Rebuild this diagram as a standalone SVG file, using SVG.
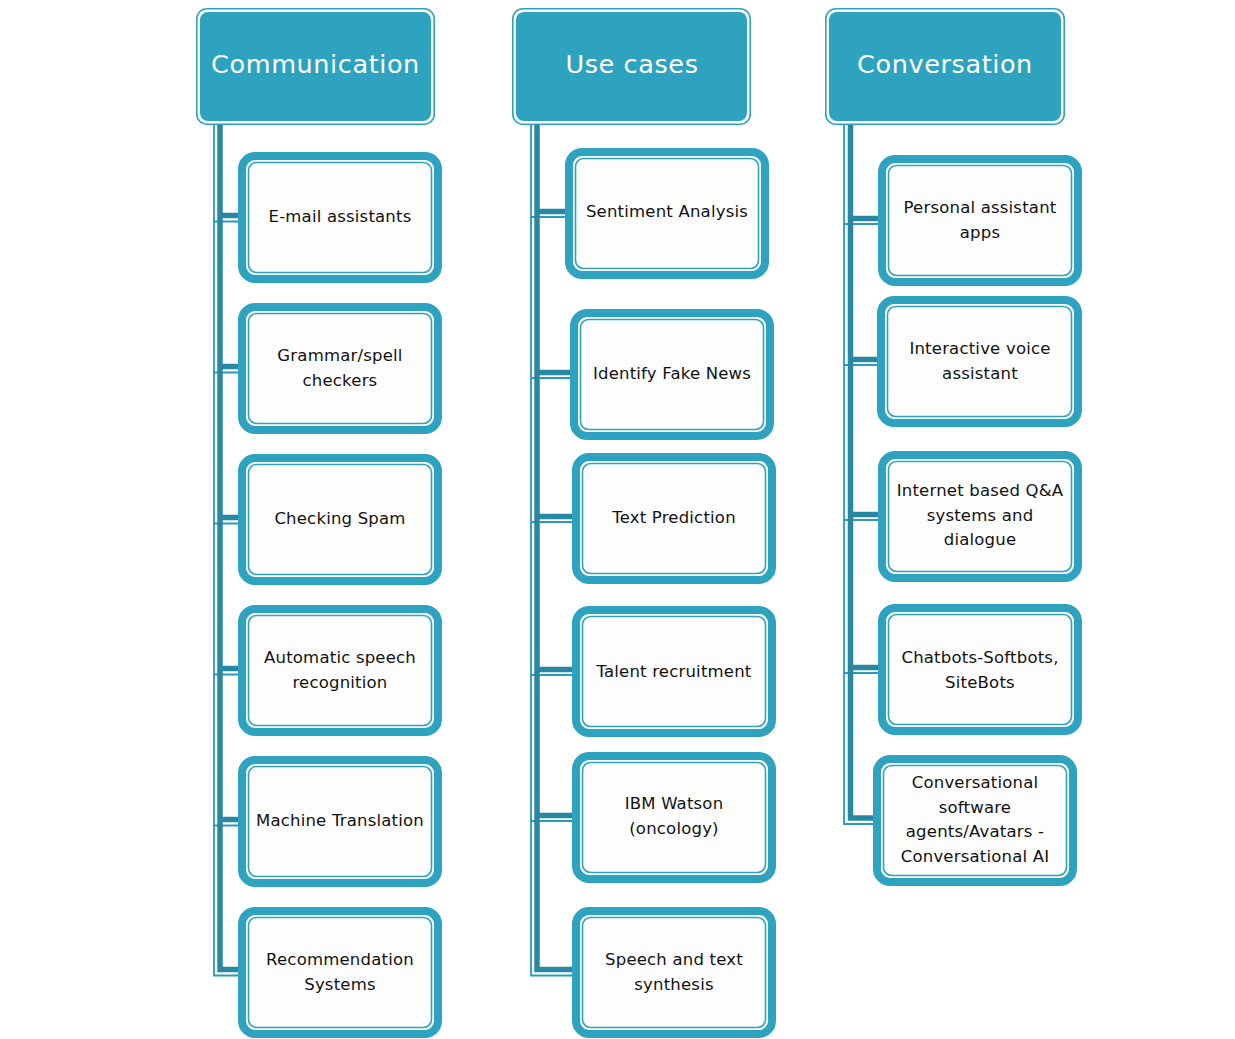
<svg xmlns="http://www.w3.org/2000/svg" width="1235" height="1039" viewBox="0 0 1235 1039">
<style>
.hd-out{fill:#ffffff;stroke:#2DA3C0;stroke-width:1.6}
.hd-in{fill:#2DA3C0}
.hd-t{font-family:"DejaVu Sans",sans-serif;font-size:25.5px;fill:#ffffff;text-anchor:middle;letter-spacing:0.6px}
.bx-out{fill:#ffffff;stroke:#2DA3C0;stroke-width:8}
.bx-in{fill:#fdfdfd;stroke:#2DA3C0;stroke-width:1.6}
.bx-t{font-family:"DejaVu Sans",sans-serif;font-size:16.5px;fill:#111111;text-anchor:middle;letter-spacing:0.2px}
.thin{fill:none;stroke:#2A9AB6;stroke-width:1.8}
.thick{fill:none;stroke:#2888A2;stroke-width:5.5}
</style>
<rect width="1235" height="1039" fill="#ffffff"/>
<g id="connectors">
  <path class="thin" d="M214,125 V975.5 H238 M214,221.5 H238 M214,372.5 H238 M214,523.5 H238 M214,674.5 H238 M214,825.5 H238"/>
  <path class="thick" d="M220,125 V969.5 H238 M220,215.5 H238 M220,366.5 H238 M220,517.5 H238 M220,668.5 H238 M220,819.5 H238"/>
  <path class="thin" d="M531,125 V975.5 H572 M531,217 H565 M531,378 H570 M531,522 H572 M531,675 H572 M531,821 H572"/>
  <path class="thick" d="M537,125 V969.5 H572 M537,211.5 H565 M537,372.5 H570 M537,516.5 H572 M537,669.5 H572 M537,815.5 H572"/>
  <path class="thin" d="M844,125 V824 H873 M844,224 H878 M844,365 H877 M844,520 H878 M844,673 H878"/>
  <path class="thick" d="M850.5,125 V818 H873 M850.5,218.5 H878 M850.5,359.5 H877 M850.5,514.5 H878 M850.5,667.5 H878"/>
</g>
<g id="h-communication">
  <rect class="hd-out" x="196.8" y="8.8" width="237.4" height="115.4" rx="10"/>
  <rect class="hd-in" x="200" y="12" width="231" height="109" rx="8"/>
  <text class="hd-t" x="315.5" y="73">Communication</text>
</g>
<g id="h-usecases">
  <rect class="hd-out" x="512.8" y="8.8" width="237.4" height="115.4" rx="10"/>
  <rect class="hd-in" x="516" y="12" width="231" height="109" rx="8"/>
  <text class="hd-t" x="632" y="73">Use cases</text>
</g>
<g id="h-conversation">
  <rect class="hd-out" x="825.8" y="8.8" width="238.4" height="115.4" rx="10"/>
  <rect class="hd-in" x="829" y="12" width="232" height="109" rx="8"/>
  <text class="hd-t" x="945" y="73">Conversation</text>
</g>
<g id="n-email">
  <rect class="bx-out" x="242" y="156" width="196" height="123" rx="13"/>
  <rect class="bx-in" x="248.5" y="162.5" width="183" height="110" rx="8"/>
  <text class="bx-t" x="340" y="222">E-mail assistants</text>
</g>
<g id="n-grammar">
  <rect class="bx-out" x="242" y="307" width="196" height="123" rx="13"/>
  <rect class="bx-in" x="248.5" y="313.5" width="183" height="110" rx="8"/>
  <text class="bx-t" x="340" y="361">Grammar/spell</text>
  <text class="bx-t" x="340" y="385.5">checkers</text>
</g>
<g id="n-spam">
  <rect class="bx-out" x="242" y="458" width="196" height="123" rx="13"/>
  <rect class="bx-in" x="248.5" y="464.5" width="183" height="110" rx="8"/>
  <text class="bx-t" x="340" y="524">Checking Spam</text>
</g>
<g id="n-asr">
  <rect class="bx-out" x="242" y="609" width="196" height="123" rx="13"/>
  <rect class="bx-in" x="248.5" y="615.5" width="183" height="110" rx="8"/>
  <text class="bx-t" x="340" y="663">Automatic speech</text>
  <text class="bx-t" x="340" y="687.5">recognition</text>
</g>
<g id="n-mt">
  <rect class="bx-out" x="242" y="760" width="196" height="123" rx="13"/>
  <rect class="bx-in" x="248.5" y="766.5" width="183" height="110" rx="8"/>
  <text class="bx-t" x="340" y="826">Machine Translation</text>
</g>
<g id="n-recsys">
  <rect class="bx-out" x="242" y="911" width="196" height="123" rx="13"/>
  <rect class="bx-in" x="248.5" y="917.5" width="183" height="110" rx="8"/>
  <text class="bx-t" x="340" y="965">Recommendation</text>
  <text class="bx-t" x="340" y="989.5">Systems</text>
</g>
<g id="n-sentiment">
  <rect class="bx-out" x="569" y="152" width="196" height="123" rx="13"/>
  <rect class="bx-in" x="575.5" y="158.5" width="183" height="110" rx="8"/>
  <text class="bx-t" x="667" y="217">Sentiment Analysis</text>
</g>
<g id="n-fakenews">
  <rect class="bx-out" x="574" y="313" width="196" height="123" rx="13"/>
  <rect class="bx-in" x="580.5" y="319.5" width="183" height="110" rx="8"/>
  <text class="bx-t" x="672" y="379">Identify Fake News</text>
</g>
<g id="n-textpred">
  <rect class="bx-out" x="576" y="457" width="196" height="123" rx="13"/>
  <rect class="bx-in" x="582.5" y="463.5" width="183" height="110" rx="8"/>
  <text class="bx-t" x="674" y="523">Text Prediction</text>
</g>
<g id="n-talent">
  <rect class="bx-out" x="576" y="610" width="196" height="123" rx="13"/>
  <rect class="bx-in" x="582.5" y="616.5" width="183" height="110" rx="8"/>
  <text class="bx-t" x="674" y="677">Talent recruitment</text>
</g>
<g id="n-ibm">
  <rect class="bx-out" x="576" y="756" width="196" height="123" rx="13"/>
  <rect class="bx-in" x="582.5" y="762.5" width="183" height="110" rx="8"/>
  <text class="bx-t" x="674" y="809">IBM Watson</text>
  <text class="bx-t" x="674" y="833.5">(oncology)</text>
</g>
<g id="n-speech">
  <rect class="bx-out" x="576" y="911" width="196" height="123" rx="13"/>
  <rect class="bx-in" x="582.5" y="917.5" width="183" height="110" rx="8"/>
  <text class="bx-t" x="674" y="965">Speech and text</text>
  <text class="bx-t" x="674" y="989.5">synthesis</text>
</g>
<g id="n-personal">
  <rect class="bx-out" x="882" y="159" width="196" height="123" rx="13"/>
  <rect class="bx-in" x="888.5" y="165.5" width="183" height="110" rx="8"/>
  <text class="bx-t" x="980" y="213">Personal assistant</text>
  <text class="bx-t" x="980" y="237.5">apps</text>
</g>
<g id="n-ivr">
  <rect class="bx-out" x="881" y="300" width="197" height="123" rx="13"/>
  <rect class="bx-in" x="887.5" y="306.5" width="184" height="110" rx="8"/>
  <text class="bx-t" x="980" y="354">Interactive voice</text>
  <text class="bx-t" x="980" y="378.5">assistant</text>
</g>
<g id="n-qa">
  <rect class="bx-out" x="882" y="455" width="196" height="123" rx="13"/>
  <rect class="bx-in" x="888.5" y="461.5" width="183" height="110" rx="8"/>
  <text class="bx-t" x="980" y="496">Internet based Q&amp;A</text>
  <text class="bx-t" x="980" y="520.5">systems and</text>
  <text class="bx-t" x="980" y="545">dialogue</text>
</g>
<g id="n-chatbots">
  <rect class="bx-out" x="882" y="608" width="196" height="123" rx="13"/>
  <rect class="bx-in" x="888.5" y="614.5" width="183" height="110" rx="8"/>
  <text class="bx-t" x="980" y="663">Chatbots-Softbots,</text>
  <text class="bx-t" x="980" y="687.5">SiteBots</text>
</g>
<g id="n-convai">
  <rect class="bx-out" x="877" y="759" width="196" height="123" rx="13"/>
  <rect class="bx-in" x="883.5" y="765.5" width="183" height="110" rx="8"/>
  <text class="bx-t" x="975" y="788">Conversational</text>
  <text class="bx-t" x="975" y="812.5">software</text>
  <text class="bx-t" x="975" y="837">agents/Avatars -</text>
  <text class="bx-t" x="975" y="861.5">Conversational AI</text>
</g>
</svg>
